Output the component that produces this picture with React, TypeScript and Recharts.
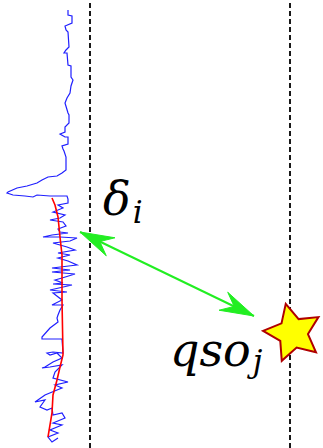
import { ComposedChart, Line, Scatter, XAxis, YAxis, ReferenceLine, ReferenceDot } from 'recharts';

// trace: x = flux offset, y = row (top to bottom)
const traceX = [68, 68, 72, 72, 65, 66, 68, 69, 66, 64, 67, 68, 71, 71, 73, 71, 70, 67, 65, 68, 69, 69, 65, 65, 60, 65, 68, 68, 62, 63, 64, 66, 66, 62, 57, 48, 42, 37, 27, 17, 8, 7, 13, 25, 33, 37, 50, 67, 68, 68, 58, 63, 53, 65, 60, 50, 63, 66, 58, 60, 68, 52, 43, 60, 77, 70, 53, 67, 75, 58, 70, 58, 68, 77, 52, 70, 52, 75, 62, 55, 63, 53, 72, 50, 67, 53, 62, 52, 63, 60, 58, 57, 58, 50, 42, 42, 62, 63, 53, 47, 50, 57, 62, 53, 45, 42, 50, 62, 55, 53, 68, 55, 62, 57, 45, 35, 45, 40, 47, 52, 53, 62, 65, 53, 62, 50, 58, 48, 52, 58];
const traceY = [10, 15, 16, 23, 26, 30, 32, 47, 50, 53, 53, 65, 66, 77, 80, 86, 93, 98, 103, 113, 115, 123, 127, 132, 134, 137, 137, 144, 146, 149, 151, 157, 170, 173, 176, 177, 180, 183, 186, 188, 192, 193, 195, 196, 197, 195, 196, 196, 199, 203, 205, 208, 212, 215, 218, 220, 222, 226, 229, 232, 233, 235, 237, 237, 238, 241, 243, 247, 250, 253, 255, 258, 261, 265, 268, 270, 272, 274, 278, 280, 283, 284, 285, 290, 292, 293, 300, 305, 305, 310, 315, 318, 322, 328, 337, 339, 339, 353, 352, 353, 355, 353, 358, 362, 367, 368, 367, 365, 372, 378, 382, 385, 388, 390, 395, 402, 400, 407, 410, 408, 415, 413, 418, 423, 425, 430, 433, 437, 442, 438];

// smooth fit (red)
const fitX = [52, 55, 58, 60, 62, 62, 63, 60, 57, 53, 52, 48];
const fitY = [198, 205, 217, 237, 255, 300, 355, 367, 380, 395, 413, 437];

// dashed boundaries
const boundaries = [90, 290];

// arrow between pixel and quasar
const arrowX = [80, 254];
const arrowY = [232, 316];

const qso = [{ x: 293, y: 333 }];

const labels = [
  { x: 103, y: 215, main: 'δ', sub: 'i', dy: 8 },
  { x: 170, y: 366, main: 'qso', sub: 'j', dy: 6 },
];

const trace = traceX.map((x, i) => ({ x, y: traceY[i] }));
const fit = fitX.map((x, i) => ({ x, y: fitY[i] }));
const arrow = arrowX.map((x, i) => ({ x, y: arrowY[i] }));

const ArrowHead = (props: any) => {
  const { cx, cy, index, points } = props;
  const pts = points && points.length === 2 ? points : arrow.map(p => ({ x: p.x, y: p.y }));
  const other = pts[index === 0 ? 1 : 0];
  const a = Math.atan2(cy - other.y, cx - other.x);
  const c = Math.cos(a), s = Math.sin(a);
  const pt = (along: number, perp: number) =>
    `${cx - along * c - perp * s},${cy - along * s + perp * c}`;
  return (
    <polygon
      key={`ah-${index}`}
      points={[pt(0, 0), pt(34, 10), pt(22, 0), pt(34, -10)].join(' ')}
      fill="#22ee22"
      stroke="#22ee22"
      strokeWidth={1}
      strokeLinejoin="miter"
    />
  );
};

const Star = (props: any) => {
  const { cx, cy } = props;
  const outer = 30, inner = 15;
  const pts: string[] = [];
  for (let k = 0; k < 10; k++) {
    const r = k % 2 === 0 ? outer : inner;
    const a = ((-104 + k * 36) * Math.PI) / 180;
    pts.push(`${cx + r * Math.cos(a)},${cy + r * Math.sin(a)}`);
  }
  return <polygon points={pts.join(' ')} fill="#ffff00" stroke="#b00000" strokeWidth={2} strokeLinejoin="miter" />;
};

const Label = (main: string, sub: string, dy: number) => (props: any) => (
  <text
    x={props.cx}
    y={props.cy}
    fontFamily="DejaVu Serif"
    fontStyle="italic"
    fontSize={46}
    fill="#000"
  >
    {main}
    <tspan fontSize={31} dy={dy} dx={2}>{sub}</tspan>
  </text>
);

export default function App() {
  return (
    <div style={{ position: 'absolute', left: 0, top: 0, background: '#fff' }}>
      <ComposedChart width={323} height={448} margin={{ top: 0, right: 0, bottom: 0, left: 0 }}>
        <XAxis type="number" dataKey="x" domain={[0, 323]} hide allowDataOverflow />
        <YAxis type="number" dataKey="y" domain={[0, 448]} reversed hide allowDataOverflow />
        {boundaries.map(b => (
          <ReferenceLine key={b} x={b} stroke="#000" strokeWidth={1.8} strokeDasharray="5 3" />
        ))}
        <Line data={trace} dataKey="y" stroke="#1f1fff" strokeWidth={1.2} dot={false} activeDot={false} isAnimationActive={false} type="linear" />
        <Line data={fit} dataKey="y" stroke="#ff0000" strokeWidth={1.6} dot={false} activeDot={false} isAnimationActive={false} type="linear" />
        <Line data={arrow} dataKey="y" stroke="#22ee22" strokeWidth={2} dot={ArrowHead} activeDot={false} isAnimationActive={false} type="linear" />
        <Scatter data={qso} shape={Star} isAnimationActive={false} />
        {labels.map(l => (
          <ReferenceDot key={l.main} x={l.x} y={l.y} r={0} shape={Label(l.main, l.sub, l.dy)} />
        ))}
      </ComposedChart>
    </div>
  );
}
